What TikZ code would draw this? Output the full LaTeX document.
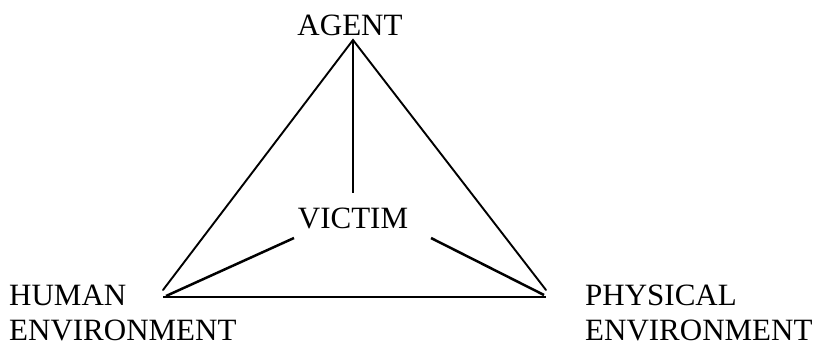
\documentclass[tikz,border=0pt]{standalone}
\usepackage{fontspec}
\setmainfont{Liberation Serif}
\begin{document}
\begin{tikzpicture}[x=1pt,y=-1pt,
  lbl/.style={inner sep=0pt,text depth=0pt,font=\fontsize{31}{36}\selectfont},
  edge/.style={line width=1.9pt,line cap=round},
  spoke/.style={line width=2.5pt},
  thin/.style={line width=1.5pt}]
\useasboundingbox (0,0) rectangle (817,346);
\node[lbl,anchor=base] (agent) at (350,35) {AGENT};
\node[lbl,anchor=base] (victim) at (353,228) {VICTIM};
\node[lbl,anchor=base west] (human) at (9,305) {HUMAN};
\node[lbl,anchor=base west] (humanenv) at (9,340) {ENVIRONMENT};
\node[lbl,anchor=base west] (phys) at (585,305) {PHYSICAL};
\node[lbl,anchor=base west] (physenv) at (585,340) {ENVIRONMENT};
\coordinate (apex) at (353,40);
\coordinate (hv) at (163,297);
\coordinate (pv) at (546,297);
\coordinate (hvtop) at (163,290);
\coordinate (pvtop) at (546,290);
\coordinate (vtop) at (353,193);
\coordinate (vl) at (294,238);
\coordinate (vr) at (431,238);
\coordinate (hvs) at (166,296);
\coordinate (pvs) at (544,295);
\draw[edge] (hvtop) -- (apex) -- (pvtop);
\draw[thin] (apex) -- (vtop);
\draw[spoke] (hv) -- (pv);
\draw[spoke] (vl) -- (hvs);
\draw[spoke] (vr) -- (pvs);
\end{tikzpicture}
\end{document}
